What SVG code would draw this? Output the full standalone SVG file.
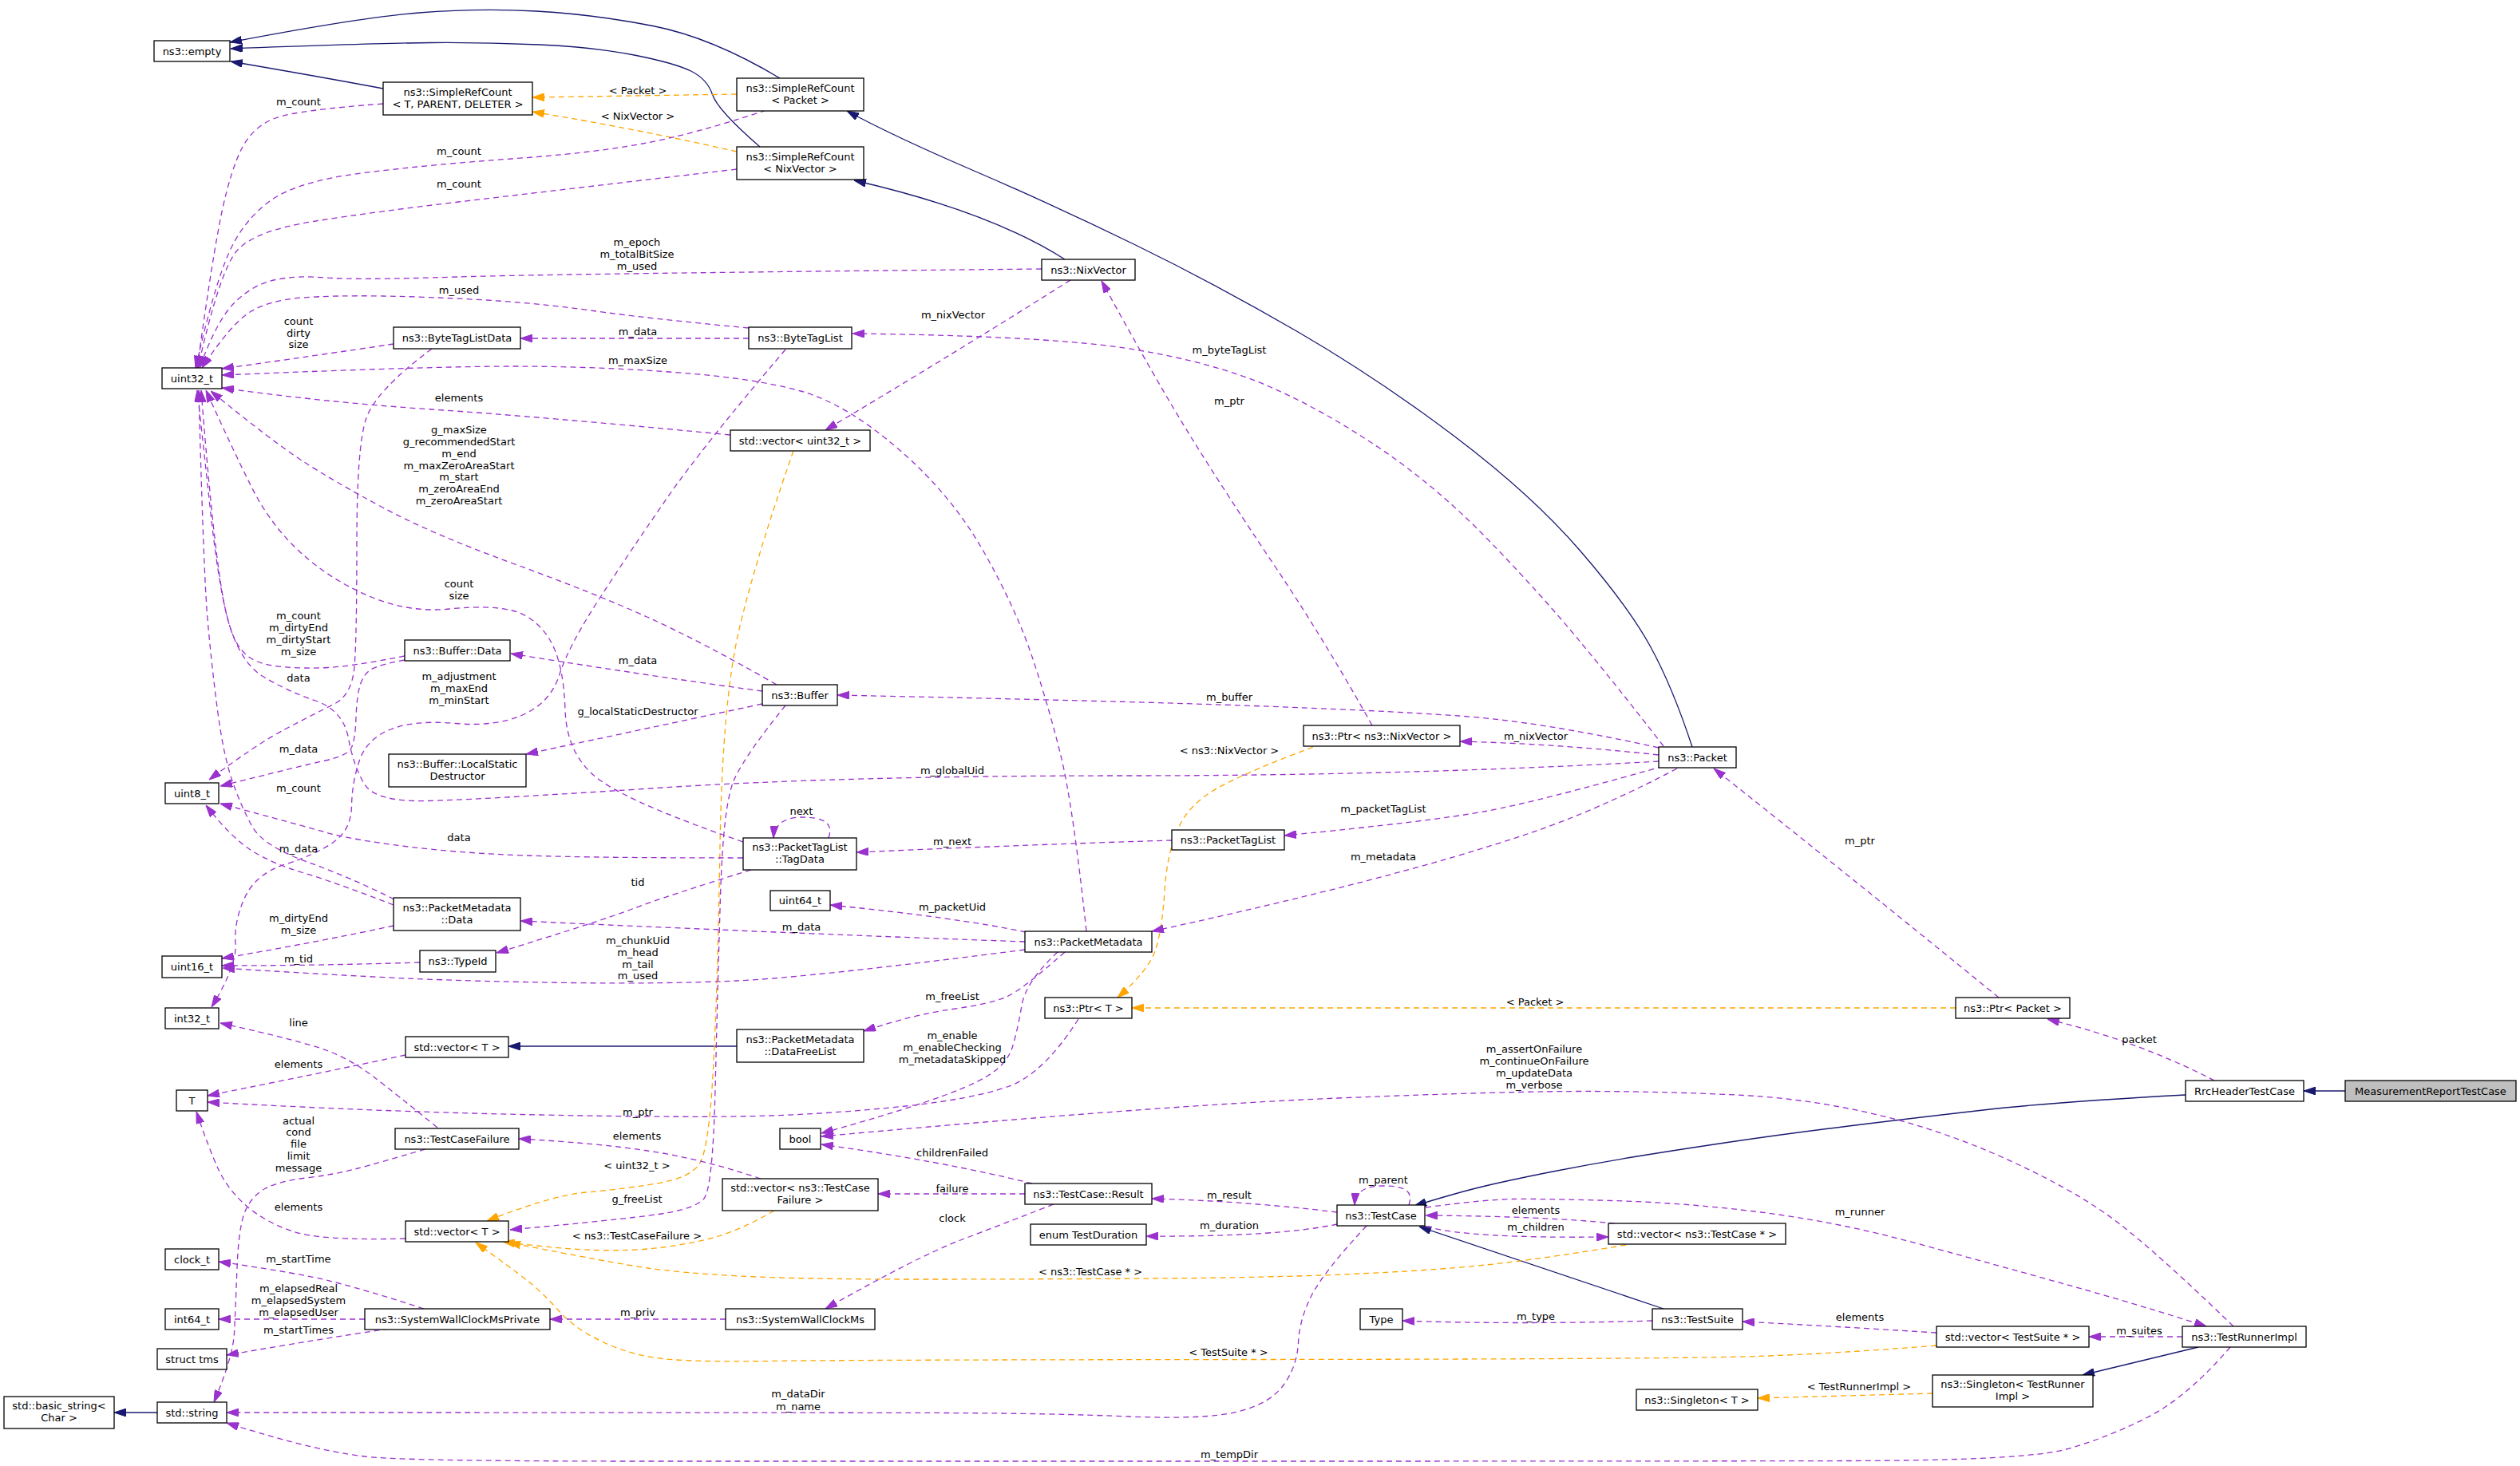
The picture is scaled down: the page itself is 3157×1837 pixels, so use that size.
<svg xmlns="http://www.w3.org/2000/svg" width="3157" height="1837" viewBox="0 0 3157 1837">
<style>
text{font-family:"DejaVu Sans","Liberation Sans",sans-serif;font-size:13px;fill:#000;text-anchor:middle}
.node rect{fill:#fff;stroke:#000;stroke-width:1.3}
.node rect.root{fill:#bfbfbf}
#edges path{fill:none;stroke-width:1.3}
#edges path.u{stroke:#9a32cd;stroke-dasharray:7,5;marker-end:url(#ap)}
#edges path.t{stroke:#ffa500;stroke-dasharray:7,5;marker-end:url(#ao)}
#edges path.i{stroke:#191970;marker-end:url(#ab)}
</style>
<defs>
<marker id="ap" markerUnits="userSpaceOnUse" markerWidth="15" markerHeight="10" viewBox="0 0 15 10" refX="15" refY="5" orient="auto"><polygon points="0,0 15,5 0,10" fill="#9a32cd" stroke="#9a32cd"/></marker>
<marker id="ao" markerUnits="userSpaceOnUse" markerWidth="15" markerHeight="10" viewBox="0 0 15 10" refX="15" refY="5" orient="auto"><polygon points="0,0 15,5 0,10" fill="#ffa500" stroke="#ffa500"/></marker>
<marker id="ab" markerUnits="userSpaceOnUse" markerWidth="15" markerHeight="10" viewBox="0 0 15 10" refX="15" refY="5" orient="auto"><polygon points="0,0 15,5 0,10" fill="#191970" stroke="#191970"/></marker>
</defs>
<rect x="0" y="0" width="3157" height="1837" fill="#fff"/>
<g id="edges">
<path class="i" d="M977,98 Q892,47 818,32.5 Q744,18 672,14 Q600,10 525,16 Q450,22 288,53"/>
<path class="i" d="M952,184 Q899,138 892.5,118.5 Q886,99 865.5,89 Q845,79 794.5,69 Q744,59 676,56 Q608,53 540.5,53.5 Q473,54 289,61"/>
<path class="i" d="M480,111 Q400,96 289,77"/>
<path class="i" d="M1334,325 Q1240,265 1070,226"/>
<path class="i" d="M2120,936 Q2095,860 2067.5,810 Q2040,760 1979.5,690 Q1919,620 1822.5,547 Q1726,474 1624.5,415 Q1523,356 1421.5,306.5 Q1320,257 1219,213.5 Q1118,170 1061,139"/>
<path class="i" d="M923,1311 L637,1311"/>
<path class="i" d="M197,1770 L143,1770"/>
<path class="i" d="M2738,1372 Q2572,1381 2484.5,1391 Q2397,1401 2316,1411 Q2235,1421 2167.5,1431 Q2100,1441 2048,1449.5 Q1996,1458 1945.5,1468 Q1895,1478 1861,1486 Q1827,1494 1772,1511"/>
<path class="i" d="M2938,1367 L2886,1367"/>
<path class="i" d="M2084,1640 Q1930,1588 1778,1537"/>
<path class="i" d="M2754,1688 L2609,1723"/>

<path class="t" d="M923,118 L667,122"/>
<path class="t" d="M923,190 Q800,162 667,140"/>
<path class="t" d="M994,565 Q946,702 925.5,791 Q905,880 902,1060 Q899,1240 893.5,1340 Q888,1440 876.5,1458 Q865,1476 822.5,1483 Q780,1490 735,1494 Q690,1498 610,1530"/>
<path class="t" d="M970,1517 Q930,1540 900,1549 Q870,1558 830,1563 Q790,1568 745,1566.5 Q700,1565 630,1556"/>
<path class="t" d="M2037,1560 Q1929,1578 1861.5,1585 Q1794,1592 1692.5,1596.5 Q1591,1601 1445.5,1602 Q1300,1603 1150,1603 Q1000,1603 926.5,1599 Q853,1595 811.5,1589 Q770,1583 637,1557"/>
<path class="t" d="M2426,1686 Q2302,1696 2201,1699.5 Q2100,1703 1580,1703.5 Q1060,1704 965,1705.5 Q870,1707 830,1702.5 Q790,1698 755,1681.5 Q720,1665 700,1642.5 Q680,1620 661,1605 Q642,1590 596,1557"/>
<path class="t" d="M1645,936 Q1560,968 1524.5,988 Q1489,1008 1475.5,1039 Q1462,1070 1459,1116.5 Q1456,1163 1448,1189 Q1440,1215 1400,1250"/>
<path class="t" d="M2450,1263 L1418,1263"/>
<path class="t" d="M2421,1746 L2202,1752"/>

<path class="u" d="M480,130 Q372,138 345,148 Q318,158 304,184 Q290,210 278.5,263 Q267,316 247,461"/>
<path class="u" d="M960,138 Q870,168 805,180 Q740,192 640.5,199 Q541,206 456.5,216.5 Q372,227 338,252 Q304,277 286,318.5 Q268,360 245,461"/>
<path class="u" d="M923,212 Q676,241 574.5,253 Q473,265 395.5,277 Q318,289 296.5,314.5 Q275,340 248,461"/>
<path class="u" d="M1305,337 Q700,343 573,347 Q446,351 409,348 Q372,345 345,350.5 Q318,356 295,378 Q272,400 250,461"/>
<path class="u" d="M938,411 Q811,399 743.5,389.5 Q676,380 608.5,376 Q541,372 480,371 Q419,370 378.5,373 Q338,376 314,390.5 Q290,405 253,461"/>
<path class="u" d="M493,431 Q400,445 278,462"/>
<path class="u" d="M1361,1167 Q1344,1008 1329,947 Q1314,886 1293.5,824.5 Q1273,763 1232.5,691.5 Q1192,620 1126,563 Q1060,506 1003,490 Q946,474 845,466.5 Q744,459 642.5,459 Q541,459 278,470"/>
<path class="u" d="M915,545 Q676,522 541,513 Q406,504 278,486"/>
<path class="u" d="M973,858 Q879,804 811.5,773.5 Q744,743 642.5,706 Q541,669 479.5,636 Q418,603 379.5,578 Q341,553 264,490"/>
<path class="u" d="M931,1055 Q800,1010 755,980 Q710,950 708,889.5 Q706,829 688,800.5 Q670,772 641.5,765 Q613,758 563.5,763 Q514,768 466,748.5 Q418,729 379,694.5 Q340,660 315,610 Q290,560 258,489"/>
<path class="u" d="M507,822 Q441,835 410.5,836.5 Q380,838 353,835.5 Q326,833 313,824 Q300,815 292.5,797.5 Q285,780 277.5,740 Q270,700 262.5,630 Q255,560 247,489"/>
<path class="u" d="M494,1127 Q440,1100 385,1080 Q330,1060 316.5,1036.5 Q303,1013 291.5,980 Q280,947 272.5,890 Q265,833 260,775.5 Q255,718 249,489"/>
<path class="u" d="M938,424 L652,424"/>
<path class="u" d="M984,438 Q880,560 835,625 Q790,690 751,750 Q712,810 701,845 Q690,880 655.5,895.5 Q621,911 571,906.5 Q521,902 490.5,913.5 Q460,925 450.5,952.5 Q441,980 440.5,1010 Q440,1040 417.5,1055.5 Q395,1071 357.5,1083 Q320,1095 306.5,1125 Q293,1155 295,1182.5 Q297,1210 265,1262"/>
<path class="u" d="M541,437 Q470,490 458.5,525 Q447,560 447,680 Q447,800 444,835.5 Q441,871 418,882.5 Q395,894 358.5,913 Q322,932 262,977"/>
<path class="u" d="M507,827 Q475,833 465.5,838.5 Q456,844 451.5,857.5 Q447,871 446,899.5 Q445,928 440,937.5 Q435,947 407.5,953 Q380,959 276,985"/>
<path class="u" d="M931,1075 Q744,1075 659.5,1072 Q575,1069 507.5,1060.5 Q440,1052 410,1043.5 Q380,1035 276,1007"/>
<path class="u" d="M493,1134 Q418,1105 379.5,1093.5 Q341,1082 315.5,1066 Q290,1050 258,1009"/>
<path class="u" d="M2078,954 Q1760,972 1410,972 Q1060,972 830,987 Q600,1002 535,1003.5 Q470,1005 456.5,982.5 Q443,960 436.5,925 Q430,890 395,878 Q360,866 330,848 Q300,830 285,775 Q270,720 252,489"/>
<path class="u" d="M493,1160 Q400,1180 278,1201"/>
<path class="u" d="M526,1206 Q400,1210 278,1210"/>
<path class="u" d="M1284,1190 Q1012,1225 923,1229 Q834,1233 717,1231.5 Q600,1230 510,1226 Q420,1222 279,1213"/>
<path class="u" d="M941,1090 Q834,1123 792,1139 Q750,1155 622,1194"/>
<path class="u" d="M1038,1050 C1045,1030 1030,1024 1004,1024 C985,1024 970,1032 969,1050"/>
<path class="u" d="M1468,1053 Q1300,1058 1073,1068"/>
<path class="u" d="M1285,1168 Q1200,1150 1040,1134"/>
<path class="u" d="M1284,1180 Q1000,1170 652,1154"/>
<path class="u" d="M1334,1193 Q1280,1241 1260,1249.5 Q1240,1258 1193,1264.5 Q1146,1271 1082,1292"/>
<path class="u" d="M1325,1193 Q1285,1230 1280,1260 Q1275,1290 1268.5,1311.5 Q1262,1333 1237.5,1348 Q1213,1363 1157.5,1381.5 Q1102,1400 1029,1420"/>
<path class="u" d="M1351,1277 Q1307,1346 1263,1361.5 Q1219,1377 1134.5,1386 Q1050,1395 964.5,1398 Q879,1401 676,1397 Q473,1393 260,1381"/>
<path class="u" d="M508,1322 Q400,1345 260,1373"/>
<path class="u" d="M508,1552 Q400,1555 365,1542.5 Q330,1530 307.5,1510 Q285,1490 273.5,1465 Q262,1440 246,1393"/>
<path class="u" d="M548,1413 Q494,1369 467,1348.5 Q440,1328 410,1316.5 Q380,1305 276,1282"/>
<path class="u" d="M533,1440 Q475,1457 446.5,1464.5 Q418,1472 383.5,1476 Q349,1480 332,1489.5 Q315,1499 307,1518 Q299,1537 297,1588.5 Q295,1640 293.5,1670 Q292,1700 268,1757"/>
<path class="u" d="M531,1640 Q433,1608 385.5,1599 Q338,1590 274,1581"/>
<path class="u" d="M457,1653 L274,1653"/>
<path class="u" d="M487,1665 Q400,1678 284,1698"/>
<path class="u" d="M909,1653 L689,1653"/>
<path class="u" d="M1320,1509 Q1253,1535 1202,1554.5 Q1151,1574 1034,1640"/>
<path class="u" d="M1284,1496 L1100,1496"/>
<path class="u" d="M1293,1483 Q1180,1455 1029,1434"/>
<path class="u" d="M953,1477 Q879,1452 811.5,1442 Q744,1432 650,1427"/>
<path class="u" d="M984,884 Q933,947 919.5,977.5 Q906,1008 902.5,1124 Q899,1240 896,1365 Q893,1490 881.5,1502.5 Q870,1515 825,1521.5 Q780,1528 639,1541"/>
<path class="u" d="M1675,1519 Q1560,1505 1443,1502"/>
<path class="u" d="M1675,1534 Q1600,1550 1436,1549"/>
<path class="u" d="M1765,1510 C1772,1490 1755,1486 1733,1486 C1712,1486 1698,1492 1697,1510"/>
<path class="u" d="M2023,1533 Q1930,1524 1786,1523"/>
<path class="u" d="M1787,1537 Q1840,1552 2015,1550"/>
<path class="u" d="M1786,1513 Q1861,1503 1895,1502.5 Q1929,1502 2019.5,1504.5 Q2110,1507 2206,1519 Q2302,1531 2403,1558.5 Q2504,1586 2588.5,1609.5 Q2673,1633 2764,1662"/>
<path class="u" d="M2070,1655 Q1900,1660 1757,1655"/>
<path class="u" d="M2426,1670 Q2300,1662 2183,1656"/>
<path class="u" d="M2734,1675 L2617,1675"/>
<path class="u" d="M1712,1536 Q1658,1594 1643,1623.5 Q1628,1653 1626.5,1682.5 Q1625,1712 1608,1735.5 Q1591,1759 1550.5,1769 Q1510,1779 1415,1775 Q1320,1771 1185,1770.5 Q1050,1770 284,1770"/>
<path class="u" d="M2794,1688 Q2740,1751 2689.5,1776.5 Q2639,1802 2588.5,1816 Q2538,1830 2319,1830.5 Q2100,1831 1580,1831 Q1060,1831 800.5,1831 Q541,1831 473.5,1826.5 Q406,1822 284,1783"/>
<path class="u" d="M2798,1662 Q2707,1574 2656.5,1534.5 Q2606,1495 2521.5,1456 Q2437,1417 2352.5,1397 Q2268,1377 2184,1372.5 Q2100,1368 1997.5,1367.5 Q1895,1367 1675.5,1376 Q1456,1385 1029,1424"/>
<path class="u" d="M2774,1354 Q2680,1305 2565,1277"/>
<path class="u" d="M2504,1250 Q2320,1100 2147,963"/>
<path class="u" d="M2084,960 Q1929,1004 1861.5,1016.5 Q1794,1029 1609,1047"/>
<path class="u" d="M2101,963 Q2000,1016 1913.5,1045 Q1827,1074 1709,1104.5 Q1591,1135 1443,1167"/>
<path class="u" d="M2078,946 Q1950,932 1829,929"/>
<path class="u" d="M2078,937 Q1929,904 1827.5,897 Q1726,890 1557,884 Q1388,878 1049,871"/>
<path class="u" d="M2084,935 Q2030,865 1979.5,804 Q1929,743 1864.5,676.5 Q1800,610 1729,562 Q1658,514 1590.5,484.5 Q1523,455 1421.5,438 Q1320,421 1068,418"/>
<path class="u" d="M1719,909 Q1658,800 1597.5,710 Q1537,620 1493.5,550 Q1450,480 1380,352"/>
<path class="u" d="M1341,351 Q1200,440 1034,539"/>
<path class="u" d="M955,866 Q800,845 640,819"/>
<path class="u" d="M955,882 Q800,915 659,945"/>

<g id="edge-labels">
<text x="799" y="117.5">&lt; Packet &gt;</text>
<text x="799" y="149.5">&lt; NixVector &gt;</text>
<text x="798" y="1464.5">&lt; uint32_t &gt;</text>
<text x="798" y="1552.5">&lt; ns3::TestCaseFailure &gt;</text>
<text x="1366" y="1597.5">&lt; ns3::TestCase * &gt;</text>
<text x="1539" y="1698.5">&lt; TestSuite * &gt;</text>
<text x="1540" y="944.5">&lt; ns3::NixVector &gt;</text>
<text x="1923" y="1259.5">&lt; Packet &gt;</text>
<text x="2329" y="1741.5">&lt; TestRunnerImpl &gt;</text>
<text x="374" y="131.5">m_count</text>
<text x="575" y="193.5">m_count</text>
<text x="575" y="234.5">m_count</text>
<text x="798" y="307.5">m_epoch</text>
<text x="798" y="322.5">m_totalBitSize</text>
<text x="798" y="337.5">m_used</text>
<text x="575" y="367.5">m_used</text>
<text x="374" y="406.5">count</text>
<text x="374" y="421.5">dirty</text>
<text x="374" y="435.5">size</text>
<text x="799" y="455.5">m_maxSize</text>
<text x="575" y="502.5">elements</text>
<text x="575" y="542.5">g_maxSize</text>
<text x="575" y="557.5">g_recommendedStart</text>
<text x="575" y="572.5">m_end</text>
<text x="575" y="587.5">m_maxZeroAreaStart</text>
<text x="575" y="602">m_start</text>
<text x="575" y="617">m_zeroAreaEnd</text>
<text x="575" y="632">m_zeroAreaStart</text>
<text x="575" y="735.5">count</text>
<text x="575" y="750.5">size</text>
<text x="374" y="775.5">m_count</text>
<text x="374" y="790.5">m_dirtyEnd</text>
<text x="374" y="805.5">m_dirtyStart</text>
<text x="374" y="820.5">m_size</text>
<text x="374" y="991.5">m_count</text>
<text x="799" y="419.5">m_data</text>
<text x="575" y="851.5">m_adjustment</text>
<text x="575" y="866.5">m_maxEnd</text>
<text x="575" y="881.5">m_minStart</text>
<text x="374" y="853.5">data</text>
<text x="374" y="942.5">m_data</text>
<text x="575" y="1053.5">data</text>
<text x="374" y="1067.5">m_data</text>
<text x="1193" y="969.5">m_globalUid</text>
<text x="374" y="1154.5">m_dirtyEnd</text>
<text x="374" y="1169.5">m_size</text>
<text x="374" y="1205.5">m_tid</text>
<text x="799" y="1182.5">m_chunkUid</text>
<text x="799" y="1197.5">m_head</text>
<text x="799" y="1212.5">m_tail</text>
<text x="799" y="1226.5">m_used</text>
<text x="799" y="1109.5">tid</text>
<text x="1004" y="1020.5">next</text>
<text x="1193" y="1058.5">m_next</text>
<text x="1193" y="1140.5">m_packetUid</text>
<text x="1004" y="1165.5">m_data</text>
<text x="1193" y="1252.5">m_freeList</text>
<text x="1193" y="1301.5">m_enable</text>
<text x="1193" y="1316.5">m_enableChecking</text>
<text x="1193" y="1331.5">m_metadataSkipped</text>
<text x="799" y="1397.5">m_ptr</text>
<text x="374" y="1337.5">elements</text>
<text x="374" y="1516.5">elements</text>
<text x="374" y="1285.5">line</text>
<text x="374" y="1408.5">actual</text>
<text x="374" y="1423.3">cond</text>
<text x="374" y="1438">file</text>
<text x="374" y="1452.8">limit</text>
<text x="374" y="1467.5">message</text>
<text x="374" y="1581.5">m_startTime</text>
<text x="374" y="1618.5">m_elapsedReal</text>
<text x="374" y="1633.5">m_elapsedSystem</text>
<text x="374" y="1648.5">m_elapsedUser</text>
<text x="374" y="1670.5">m_startTimes</text>
<text x="799" y="1649">m_priv</text>
<text x="1193" y="1530.5">clock</text>
<text x="1193" y="1493.5">failure</text>
<text x="1193" y="1448.5">childrenFailed</text>
<text x="798" y="1427.5">elements</text>
<text x="798" y="1506.5">g_freeList</text>
<text x="1540" y="1501.5">m_result</text>
<text x="1540" y="1539.5">m_duration</text>
<text x="1733" y="1482.5">m_parent</text>
<text x="1924" y="1520.5">elements</text>
<text x="1924" y="1541.5">m_children</text>
<text x="2330" y="1522.5">m_runner</text>
<text x="1924" y="1653.5">m_type</text>
<text x="2330" y="1654.5">elements</text>
<text x="2680" y="1671.5">m_suites</text>
<text x="1000" y="1750.5">m_dataDir</text>
<text x="1000" y="1766.5">m_name</text>
<text x="1540" y="1826.5">m_tempDir</text>
<text x="1922" y="1318.5">m_assertOnFailure</text>
<text x="1922" y="1333.5">m_continueOnFailure</text>
<text x="1922" y="1348.5">m_updateData</text>
<text x="1922" y="1363.5">m_verbose</text>
<text x="2680" y="1306.5">packet</text>
<text x="2330" y="1057.5">m_ptr</text>
<text x="1733" y="1017.5">m_packetTagList</text>
<text x="1733" y="1077.5">m_metadata</text>
<text x="1924" y="926.5">m_nixVector</text>
<text x="1540" y="877.5">m_buffer</text>
<text x="1540" y="442.5">m_byteTagList</text>
<text x="1540" y="506.5">m_ptr</text>
<text x="1194" y="398.5">m_nixVector</text>
<text x="799" y="831.5">m_data</text>
<text x="799" y="895.5">g_localStaticDestructor</text>
</g>
</g>

<g id="n-empty" class="node"><rect x="193" y="51" width="95" height="26"/><text x="240.5" y="68.5">ns3::empty</text></g>
<g id="n-srcT" class="node"><rect x="480" y="103" width="187" height="41"/><text x="573.5" y="119.5">ns3::SimpleRefCount</text><text x="573.5" y="134.5">&lt; T, PARENT, DELETER &gt;</text></g>
<g id="n-srcP" class="node"><rect x="923" y="98" width="159" height="41"/><text x="1002.5" y="114.5">ns3::SimpleRefCount</text><text x="1002.5" y="129.5">&lt; Packet &gt;</text></g>
<g id="n-srcN" class="node"><rect x="923" y="184" width="159" height="41"/><text x="1002.5" y="200.5">ns3::SimpleRefCount</text><text x="1002.5" y="215.5">&lt; NixVector &gt;</text></g>
<g id="n-nix" class="node"><rect x="1305" y="325" width="117" height="26"/><text x="1363.5" y="342.5">ns3::NixVector</text></g>
<g id="n-u32" class="node"><rect x="203" y="461" width="75" height="26"/><text x="240.5" y="478.5">uint32_t</text></g>
<g id="n-btld" class="node"><rect x="493" y="410" width="159" height="27"/><text x="572.5" y="428">ns3::ByteTagListData</text></g>
<g id="n-btl" class="node"><rect x="938" y="410" width="129" height="27"/><text x="1002.5" y="428">ns3::ByteTagList</text></g>
<g id="n-vu32" class="node"><rect x="915" y="539" width="175" height="26"/><text x="1002.5" y="556.5">std::vector&lt; uint32_t &gt;</text></g>
<g id="n-bufd" class="node"><rect x="507" y="802" width="132" height="26"/><text x="573" y="819.5">ns3::Buffer::Data</text></g>
<g id="n-buf" class="node"><rect x="955" y="858" width="94" height="26"/><text x="1002" y="875.5">ns3::Buffer</text></g>
<g id="n-lsd" class="node"><rect x="487" y="945" width="172" height="41"/><text x="573" y="961.5">ns3::Buffer::LocalStatic</text><text x="573" y="976.5">Destructor</text></g>
<g id="n-u8" class="node"><rect x="207" y="981" width="67" height="26"/><text x="240.5" y="998.5">uint8_t</text></g>
<g id="n-tag" class="node"><rect x="931" y="1050" width="142" height="40"/><text x="1002" y="1066">ns3::PacketTagList</text><text x="1002" y="1081">::TagData</text></g>
<g id="n-u64" class="node"><rect x="965" y="1116" width="75" height="25"/><text x="1002.5" y="1133">uint64_t</text></g>
<g id="n-pmd" class="node"><rect x="493" y="1125" width="159" height="41"/><text x="572.5" y="1141.5">ns3::PacketMetadata</text><text x="572.5" y="1156.5">::Data</text></g>
<g id="n-tid" class="node"><rect x="526" y="1191" width="95" height="27"/><text x="573.5" y="1209">ns3::TypeId</text></g>
<g id="n-u16" class="node"><rect x="203" y="1198" width="75" height="27"/><text x="240.5" y="1216">uint16_t</text></g>
<g id="n-pm" class="node"><rect x="1284" y="1167" width="159" height="26"/><text x="1363.5" y="1184.5">ns3::PacketMetadata</text></g>
<g id="n-i32" class="node"><rect x="207" y="1263" width="67" height="26"/><text x="240.5" y="1280.5">int32_t</text></g>
<g id="n-vT1" class="node"><rect x="508" y="1299" width="129" height="26"/><text x="572.5" y="1316.5">std::vector&lt; T &gt;</text></g>
<g id="n-dfl" class="node"><rect x="923" y="1290" width="159" height="41"/><text x="1002.5" y="1306.5">ns3::PacketMetadata</text><text x="1002.5" y="1321.5">::DataFreeList</text></g>
<g id="n-T" class="node"><rect x="221" y="1366" width="39" height="26"/><text x="240.5" y="1383.5">T</text></g>
<g id="n-tcf" class="node"><rect x="495" y="1414" width="155" height="26"/><text x="572.5" y="1431.5">ns3::TestCaseFailure</text></g>
<g id="n-bool" class="node"><rect x="977" y="1414" width="51" height="26"/><text x="1002.5" y="1431.5">bool</text></g>
<g id="n-vtcf" class="node"><rect x="905" y="1477" width="195" height="40"/><text x="1002.5" y="1493">std::vector&lt; ns3::TestCase</text><text x="1002.5" y="1508">Failure &gt;</text></g>
<g id="n-vT2" class="node"><rect x="508" y="1530" width="129" height="26"/><text x="572.5" y="1547.5">std::vector&lt; T &gt;</text></g>
<g id="n-clock" class="node"><rect x="207" y="1565" width="67" height="26"/><text x="240.5" y="1582.5">clock_t</text></g>
<g id="n-i64" class="node"><rect x="207" y="1640" width="67" height="26"/><text x="240.5" y="1657.5">int64_t</text></g>
<g id="n-swcp" class="node"><rect x="457" y="1640" width="232" height="26"/><text x="573" y="1657.5">ns3::SystemWallClockMsPrivate</text></g>
<g id="n-swc" class="node"><rect x="909" y="1640" width="187" height="26"/><text x="1002.5" y="1657.5">ns3::SystemWallClockMs</text></g>
<g id="n-tms" class="node"><rect x="197" y="1690" width="87" height="26"/><text x="240.5" y="1707.5">struct tms</text></g>
<g id="n-bstr" class="node"><rect x="5" y="1750" width="138" height="40"/><text x="74" y="1766">std::basic_string&lt;</text><text x="74" y="1781">Char &gt;</text></g>
<g id="n-str" class="node"><rect x="197" y="1757" width="87" height="26"/><text x="240.5" y="1774.5">std::string</text></g>
<g id="n-pnix" class="node"><rect x="1633" y="909" width="196" height="26"/><text x="1731" y="926.5">ns3::Ptr&lt; ns3::NixVector &gt;</text></g>
<g id="n-pkt" class="node"><rect x="2078" y="936" width="97" height="26"/><text x="2126.5" y="953.5">ns3::Packet</text></g>
<g id="n-ptl" class="node"><rect x="1468" y="1040" width="141" height="25"/><text x="1538.5" y="1057">ns3::PacketTagList</text></g>
<g id="n-ptrT" class="node"><rect x="1309" y="1250" width="109" height="26"/><text x="1363.5" y="1267.5">ns3::Ptr&lt; T &gt;</text></g>
<g id="n-ptrP" class="node"><rect x="2450" y="1250" width="143" height="26"/><text x="2521.5" y="1267.5">ns3::Ptr&lt; Packet &gt;</text></g>
<g id="n-rrc" class="node"><rect x="2738" y="1354" width="148" height="26"/><text x="2812" y="1371.5">RrcHeaderTestCase</text></g>
<g id="n-mrt" class="node"><rect class="root" x="2938" y="1354" width="214" height="26"/><text x="3045" y="1371.5">MeasurementReportTestCase</text></g>
<g id="n-res" class="node"><rect x="1284" y="1483" width="159" height="26"/><text x="1363.5" y="1500.5">ns3::TestCase::Result</text></g>
<g id="n-dur" class="node"><rect x="1291" y="1534" width="145" height="26"/><text x="1363.5" y="1551.5">enum TestDuration</text></g>
<g id="n-tc" class="node"><rect x="1675" y="1510" width="110" height="26"/><text x="1730" y="1527.5">ns3::TestCase</text></g>
<g id="n-vtc" class="node"><rect x="2015" y="1533" width="222" height="26"/><text x="2126" y="1550.5">std::vector&lt; ns3::TestCase * &gt;</text></g>
<g id="n-type" class="node"><rect x="1704" y="1640" width="53" height="26"/><text x="1730.5" y="1657.5">Type</text></g>
<g id="n-ts" class="node"><rect x="2070" y="1640" width="113" height="26"/><text x="2126.5" y="1657.5">ns3::TestSuite</text></g>
<g id="n-vts" class="node"><rect x="2426" y="1662" width="191" height="26"/><text x="2521.5" y="1679.5">std::vector&lt; TestSuite * &gt;</text></g>
<g id="n-tri" class="node"><rect x="2734" y="1662" width="155" height="26"/><text x="2811.5" y="1679.5">ns3::TestRunnerImpl</text></g>
<g id="n-sgTR" class="node"><rect x="2421" y="1723" width="201" height="40"/><text x="2521.5" y="1739">ns3::Singleton&lt; TestRunner</text><text x="2521.5" y="1754">Impl &gt;</text></g>
<g id="n-sgT" class="node"><rect x="2050" y="1741" width="152" height="26"/><text x="2126" y="1758.5">ns3::Singleton&lt; T &gt;</text></g>
</svg>
